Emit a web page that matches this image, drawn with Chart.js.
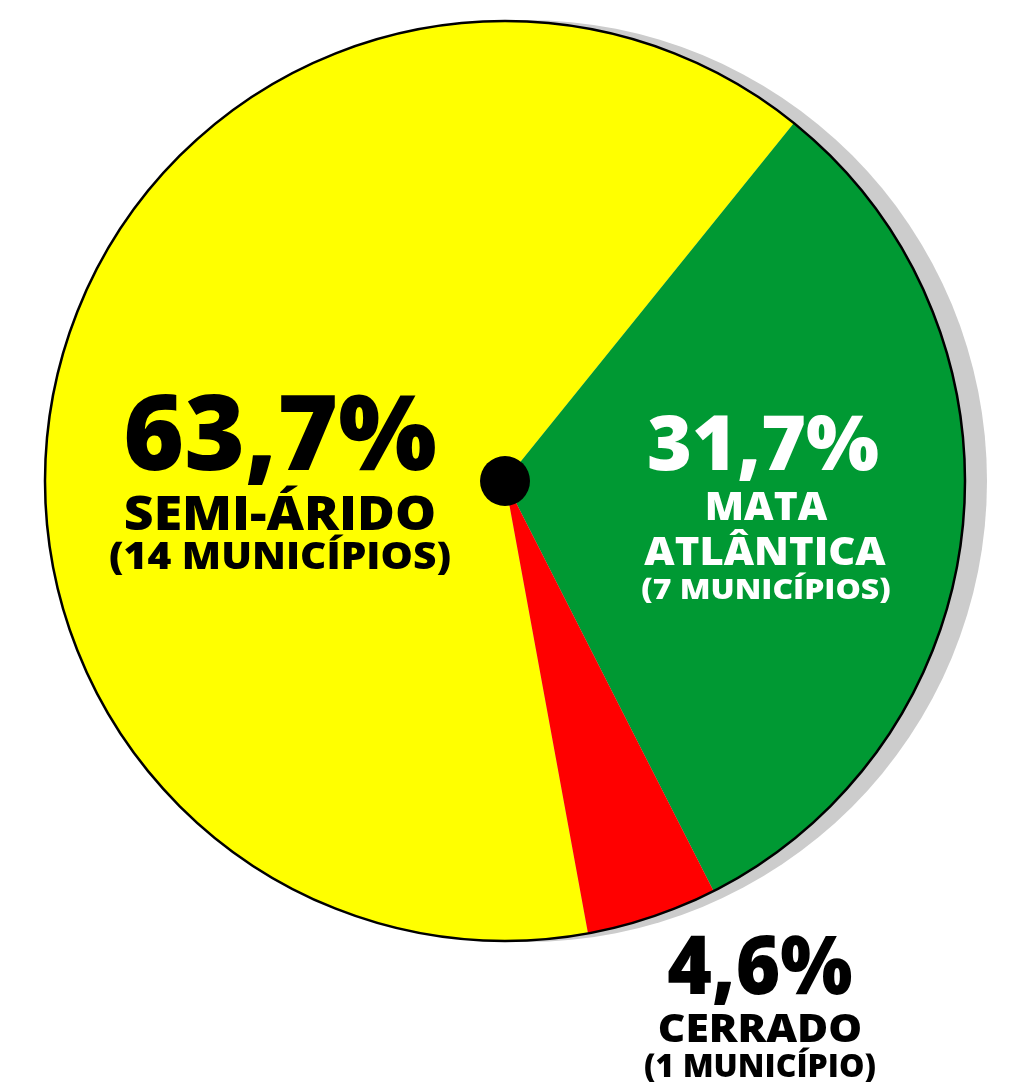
<!DOCTYPE html>
<html>
<head>
<meta charset="utf-8">
<script src="https://cdn.jsdelivr.net/npm/chart.js@4"></script>
<style>
  html, body { margin: 0; padding: 0; background: #fff; }
  #wrap { width: 1019px; height: 1088px; position: relative; }
</style>
</head>
<body>
<div id="wrap"><canvas id="pizza"></canvas></div>
<script>
  // dados
  const biomas = ["SEMI-ÁRIDO", "MATA ATLÂNTICA", "CERRADO"];
  const percentuais = [63.7, 31.7, 4.6];
  const municipios = ["(14 MUNICÍPIOS)", "(7 MUNICÍPIOS)", "(1 MUNICÍPIO)"];
  const cores = ["#ffff00", "#009933", "#ff0000"];

  const fonte = '"Open Sans", "DejaVu Sans", sans-serif';

  function pct(v) {
    return v.toFixed(1).replace(".", ",") + "%";
  }

  // sombra cinza atrás do círculo
  const sombra = {
    id: "sombra",
    beforeDatasetsDraw(chart) {
      const arc = chart.getDatasetMeta(0).data[0];
      const ctx = chart.ctx;
      ctx.save();
      ctx.fillStyle = "#cccccc";
      ctx.beginPath();
      ctx.arc(arc.x + 21, arc.y, arc.outerRadius + 1, 0, Math.PI * 2);
      ctx.fill();
      ctx.restore();
    },
  };

  // borda, ponto central e rótulos
  const rotulos = {
    id: "rotulos",
    afterDatasetsDraw(chart) {
      const arc = chart.getDatasetMeta(0).data[0];
      const ctx = chart.ctx;
      const cx = arc.x, cy = arc.y;
      ctx.save();
      ctx.strokeStyle = "#000";
      ctx.lineWidth = 2.5;
      ctx.beginPath();
      ctx.arc(cx, cy, arc.outerRadius, 0, Math.PI * 2);
      ctx.stroke();

      ctx.fillStyle = "#000";
      ctx.beginPath();
      ctx.arc(cx, cy, 25, 0, Math.PI * 2);
      ctx.fill();

      ctx.textAlign = "center";
      ctx.textBaseline = "alphabetic";
      // sx = esticar na horizontal (fonte original é mais larga)
      function txt(s, x, y, size, cor, sx) {
        ctx.save();
        ctx.font = "800 " + size + "px " + fonte;
        ctx.fillStyle = cor;
        ctx.translate(cx + x, cy + y);
        ctx.scale(sx || 1, 1);
        ctx.fillText(s, 0, 0);
        ctx.restore();
      }
      // semi-árido
      txt(pct(percentuais[0]), -225, -11, 104, "#000");
      txt(biomas[0], -225, 49, 47, "#000", 1.1);
      txt(municipios[0], -225, 88, 37, "#000", 1.1);
      // mata atlântica
      txt(pct(percentuais[1]), 258, -11, 77, "#fff");
      const ma = biomas[1].split(" ");
      txt(ma[0], 261, 39, 38, "#fff", 1.07);
      txt(ma[1], 260, 84, 38, "#fff", 1.1);
      txt(municipios[1], 261, 118, 29, "#fff", 1.1);
      // cerrado
      txt(pct(percentuais[2]), 255, 513, 82, "#000", 0.93);
      txt(biomas[2], 255, 561, 39, "#000", 1.09);
      txt(municipios[2], 255, 596, 32, "#000");
      ctx.restore();
    },
  };

  const pizza = document.getElementById("pizza");

  new Chart(pizza, {
    type: "pie",
    data: {
      labels: biomas,
      datasets: [
        {
          data: percentuais,
          backgroundColor: cores,
          borderWidth: 0,
          hoverOffset: 0,
        },
      ],
    },
    options: {
      responsive: true,
      maintainAspectRatio: false,
      animation: false,
      rotation: 169.6,
      layout: {
        padding: { left: 45, right: 54, top: 20, bottom: 146 },
      },
      plugins: {
        legend: { display: false },
        tooltip: { enabled: false },
      },
    },
    plugins: [sombra, rotulos],
  });
</script>
</body>
</html>
